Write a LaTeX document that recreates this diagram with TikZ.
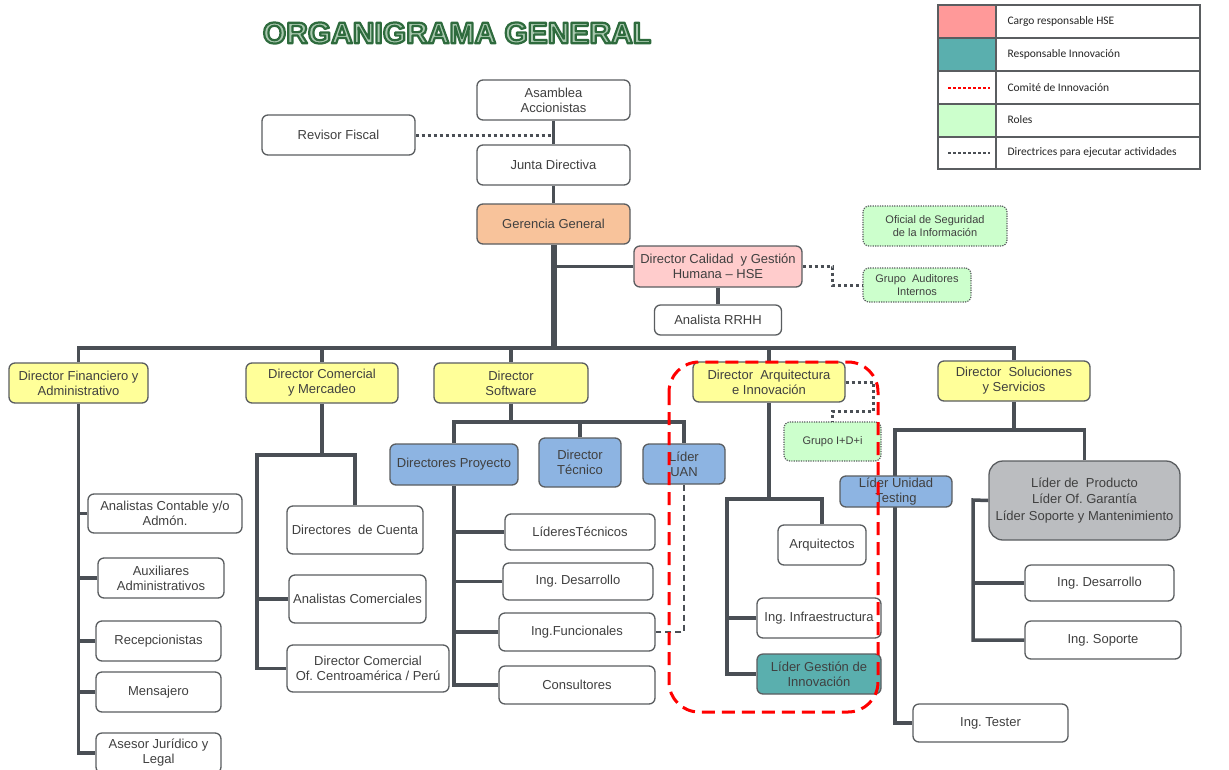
\documentclass[tikz,border=0pt]{standalone}
\usepackage{fontspec}
\setmainfont{Liberation Sans}
\newfontfamily\legendfont{Carlito}
\usepackage{xcolor}
\definecolor{linegray}{HTML}{4A4F55}
\definecolor{boxgray}{HTML}{5A5D60}
\definecolor{textgray}{HTML}{404040}
\definecolor{gerenciaorange}{HTML}{F8C39B}
\definecolor{hsepink}{HTML}{FFCCCC}
\definecolor{diryellow}{HTML}{FFFF99}
\definecolor{projblue}{HTML}{8DB4E2}
\definecolor{innoteal}{HTML}{5AAFAE}
\definecolor{rolegreen}{HTML}{CCFFCC}
\definecolor{prodgray}{HTML}{BBBDC0}
\definecolor{legpink}{HTML}{FF9999}
\definecolor{titlefill}{HTML}{A9C8AF}
\usepackage{tikz}
\usetikzlibrary{positioning,backgrounds}
\frenchspacing

\begin{document}
\begin{tikzpicture}[x=1pt, y=-1pt,
    box/.style={draw=boxgray, line width=1.3pt, rounded corners=6pt, fill=white, align=center, text=textgray, font=\fontsize{13}{15}\selectfont, inner sep=1pt},
    dirbox/.style={box, fill=diryellow},
    bluebox/.style={box, fill=projblue},
    rolebox/.style={box, line width=1.2pt, dash pattern=on 1.2pt off 1.2pt, fill=rolegreen, font=\fontsize{11}{13}\selectfont},
    conn/.style={draw=linegray, line width=3.5pt},
    trunk/.style={draw=linegray, line width=6pt},
    dotline/.style={draw=linegray, line width=3pt, dash pattern=on 3pt off 3pt},
    dashline/.style={draw=linegray, line width=2.5pt, dash pattern=on 6pt off 4pt},
    comite/.style={draw=red, line width=3pt, dash pattern=on 13pt off 7pt, rounded corners=30pt},
    titlestyle/.style={font=\fontsize{30}{32}\selectfont\bfseries},
    legtext/.style={anchor=west, font=\legendfont\fontsize{11.5}{13}\selectfont, text=black!85}]
    \useasboundingbox (0,0) rectangle (1229,769);

    % title
    \node[titlestyle, text=titlefill] (title) at (457,33)
      {\special{pdf:code 0.18 0.42 0.24 RG 2.2 w 1 j 2 Tr}ORGANIGRAMA GENERAL\special{pdf:code 0 Tr}};

    % legend
    \fill[legpink] (938,5) rectangle (996,38);
    \fill[innoteal] (938,38) rectangle (996,71);
    \fill[rolegreen] (938,104) rectangle (996,137);
    \draw[boxgray, line width=1.2pt] (938,5) rectangle (1200,169);
    \draw[boxgray, line width=1.2pt] (996,5) -- (996,169);
    \foreach \y in {38,71,104,137}
      \draw[boxgray, line width=1.2pt] (938,\y) -- (1200,\y);
    \draw[red, line width=1.2pt, dash pattern=on 3pt off 2pt] (948,88) -- (990,88);
    \draw[linegray, line width=1.2pt, dash pattern=on 3pt off 2pt] (948,153) -- (990,153);
    \foreach \i/\txt in {0/Cargo responsable HSE, 1/Responsable Innovación, 2/Comité de Innovación, 3/Roles, 4/Directrices para ejecutar actividades}
      \node[legtext] (leg\i) at (1004,{21.5+32.8*\i}) {\txt};

    % top
    \node[box, minimum width=153pt, minimum height=40pt] (asamblea) at (553.5,100) {Asamblea\\Accionistas};
    \node[box, minimum width=153pt, minimum height=40pt] (revisor) at (338.5,135) {Revisor Fiscal};
    \node[box, minimum width=153pt, minimum height=40pt] (junta) at (553.5,165) {Junta Directiva};
    \node[box, fill=gerenciaorange, minimum width=153pt, minimum height=40pt] (gerencia) at (553.5,224) {Gerencia General};
    \node[box, fill=hsepink, minimum width=168pt, minimum height=41pt] (hse) at (718,266.5) {Director Calidad\ \ y Gestión\\Humana -- HSE};
    \node[box, minimum width=127pt, minimum height=30pt] (rrhh) at (718,320) {Analista RRHH};
    \node[rolebox, minimum width=144pt, minimum height=40pt] (oficial) at (935,226) {Oficial de Seguridad\\de la Información};
    \node[rolebox, minimum width=108pt, minimum height=34pt] (audit) at (917,285) {Grupo\ \ Auditores\\Internos};

    % directors
    \node[dirbox, minimum width=139pt, minimum height=40pt] (finan) at (78.5,383) {Director Financiero y\\Administrativo};
    \node[dirbox, minimum width=152pt, minimum height=40pt] (comer) at (322,383) {Director Comercial\\y Mercadeo};
    \node[dirbox, minimum width=154pt, minimum height=40pt] (soft) at (511,383) {Director\\Software};
    \node[dirbox, minimum width=152pt, minimum height=40pt] (arq) at (769,382) {Director\ \ Arquitectura\\e Innovación};
    \node[dirbox, minimum width=152pt, minimum height=40pt] (solu) at (1014,381) {Director\ \ Soluciones\\y Servicios};

    % financiero
    \node[box, minimum width=154pt, minimum height=39pt] (contable) at (165,513.5) {Analistas Contable y/o\\Admón.};
    \node[box, minimum width=126pt, minimum height=40pt] (auxil) at (161,578) {Auxiliares\\Administrativos};
    \node[box, minimum width=125pt, minimum height=40pt] (recep) at (158.5,641) {Recepcionistas};
    \node[box, minimum width=125pt, minimum height=40pt] (mensa) at (158.5,692) {Mensajero};
    \node[box, minimum width=125pt, minimum height=40pt] (asesor) at (158.5,753) {Asesor Jurídico y\\Legal};

    % comercial
    \node[box, minimum width=136pt, minimum height=48pt] (cuenta) at (355,530) {Directores\ \ de Cuenta};
    \node[box, minimum width=137pt, minimum height=48pt] (anacom) at (357.5,599) {Analistas Comerciales};
    \node[box, minimum width=162pt, minimum height=47pt] (ofcentro) at (368,668.5) {Director Comercial\\Of. Centroamérica / Perú};

    % software
    \node[bluebox, minimum width=128pt, minimum height=41pt] (dproy) at (454,464.5) {Directores Proyecto};
    \node[bluebox, minimum width=82pt, minimum height=49pt] (dtec) at (580,462.5) {Director\\Técnico};
    \node[bluebox, minimum width=82pt, minimum height=40pt] (uan) at (684,464) {Líder\\UAN};
    \node[box, minimum width=150pt, minimum height=36pt] (lidtec) at (580,532) {LíderesTécnicos};
    \node[box, minimum width=150pt, minimum height=37pt] (ingdes) at (578,581.5) {Ing. Desarrollo};
    \node[box, minimum width=156pt, minimum height=38pt] (ingfun) at (577,632) {Ing.Funcionales};
    \node[box, minimum width=156pt, minimum height=38pt] (consult) at (577,685) {Consultores};

    % arquitectura
    \node[rolebox, minimum width=97pt, minimum height=39pt] (idi) at (832.5,441.5) {Grupo I+D+i};
    \node[box, minimum width=88pt, minimum height=40pt] (arqtos) at (822,545) {Arquitectos};
    \node[box, minimum width=124pt, minimum height=40pt] (infra) at (819,618) {Ing. Infraestructura};
    \node[box, fill=innoteal, minimum width=124pt, minimum height=40pt] (lidgest) at (819,674) {Líder Gestión de\\Innovación};

    % soluciones
    \node[bluebox, minimum width=112pt, minimum height=31pt] (testing) at (896,491.5) {Líder Unidad\\Testing};
    \node[box, fill=prodgray, rounded corners=14pt, minimum width=191pt, minimum height=79pt, font=\fontsize{13}{16.5}\selectfont] (prod) at (1084.5,500.5) {Líder de\ \ Producto\\Líder Of. Garantía\\Líder Soporte y Mantenimiento};
    \node[box, minimum width=149pt, minimum height=36pt] (ingdes2) at (1099.5,583) {Ing. Desarrollo};
    \node[box, minimum width=156pt, minimum height=38pt] (ingsop) at (1103,640) {Ing. Soporte};
    \node[box, minimum width=155pt, minimum height=38pt] (tester) at (990.5,723) {Ing. Tester};

    \coordinate (bus) at (553,348);
    \coordinate (combus) at (257,455);
    \coordinate (swbus) at (510,422);
    \coordinate (arqbus) at (727,499);
    \coordinate (solbus) at (895,430);
    \coordinate (prodbus) at (973,500);

    \begin{scope}[on background layer]
      \fill[white] (0,0) rectangle (1229,769);
      \draw[dotline] (revisor.east) -- (revisor.east -| asamblea.south);
      \draw[conn] (asamblea) -- (junta);
      \draw[conn] (junta) -- (gerencia);
      \draw[trunk] (gerencia.south) -- (gerencia.south |- bus);
      \draw[conn] (hse.west) -- (hse.west -| gerencia.south);
      \draw[conn] (hse) -- (rrhh);
      \draw[conn] (finan.north) -- (finan.north |- bus) -- (solu.north |- bus) -- (solu.north);
      \foreach \d in {comer,soft,arq}
        \draw[conn] (\d.north) -- (\d.north |- bus);

      \draw[conn] (finan.south) |- (asesor.west);
      \foreach \n in {contable,auxil,recep,mensa}
        \draw[conn] (\n.west) -- (\n.west -| finan.south);

      \draw[conn] (comer.south) -- (comer.south |- combus);
      \draw[conn] (cuenta.north) -- (cuenta.north |- combus) -- (combus) |- (ofcentro.west);
      \draw[conn] (anacom.west) -- (anacom.west -| combus);

      \draw[conn] (soft.south) -- (soft.south |- swbus);
      \draw[conn] (dproy.north) -- (dproy.north |- swbus) -- (uan.north |- swbus) -- (uan.north);
      \draw[conn] (dtec.north) -- (dtec.north |- swbus);
      \draw[conn] (dproy.south) |- (consult.west);
      \foreach \n in {lidtec,ingdes,ingfun}
        \draw[conn] (\n.west) -- (\n.west -| dproy.south);

      \draw[conn] (arq.south) -- (arq.south |- arqbus);
      \draw[conn] (arqtos.north) -- (arqtos.north |- arqbus) -- (arqbus) |- (lidgest.west);
      \draw[conn] (infra.west) -- (infra.west -| arqbus);

      \draw[conn] (solu.south) -- (solu.south |- solbus);
      \draw[conn] (prod.north) -- (prod.north |- solbus) -- (solbus) |- (tester.west);
      \draw[conn] (prod.west) -- (prodbus) |- (ingsop.west);
      \draw[conn] (ingdes2.west) -- (ingdes2.west -| prodbus);
    \end{scope}

    \draw[dotline] (hse.east) -- ++(30,0) |- (audit.west);
    \draw[dotline] (arq.east) -- ++(28,0) -- ++(0,29) -| (idi.north);
    \draw[dashline] (uan.south) |- (ingfun.east);
    \draw[comite] (669,362) rectangle (878,712);
  \end{tikzpicture}
\end{document}
